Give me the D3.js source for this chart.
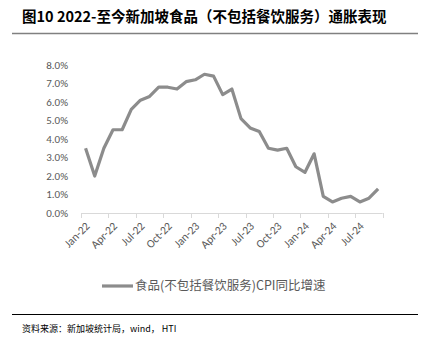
<!DOCTYPE html>
<html><head><meta charset="utf-8">
<script src="https://cdn.jsdelivr.net/npm/d3@7"></script>
<style>body{margin:0;background:#fff}svg{display:block}</style>
</head><body><svg id="c" width="425" height="341"></svg>
<script>
const months = ["Jan","Feb","Mar","Apr","May","Jun","Jul","Aug","Sep","Oct","Nov","Dec"];
const categories = [];
[22,23,24].forEach(y=>months.forEach(m=>categories.push(m+"-"+y)));
categories.length = 33;
const values = [3.5,2.0,3.5,4.5,4.5,5.6,6.1,6.3,6.8,6.8,6.7,7.1,
                7.2,7.5,7.4,6.4,6.7,5.1,4.6,4.4,3.5,3.4,3.5,2.5,
                2.2,3.2,0.9,0.6,0.8,0.9,0.6,0.8,1.3];
const yTicks = [0,1,2,3,4,5,6,7,8];
const tickLabels = ["Jan-22","Apr-22","Jul-22","Oct-22","Jan-23","Apr-23","Jul-23","Oct-23","Jan-24","Apr-24","Jul-24"];
const title = "图10 2022-至今新加坡食品（不包括餐饮服务）通胀表现";
const seriesName = "食品(不包括餐饮服务)CPI同比增速";
const source = "资料来源：新加坡统计局，wind， HTI";

const svg = d3.select("#c");
const font = "'Noto Sans CJK SC','Noto Sans',sans-serif";
const gray = "#595959";

svg.append("text").attr("x",22).attr("y",22).attr("font-family",font)
  .attr("font-size",14.5).attr("font-weight","bold").attr("fill","#000").text(title);
svg.append("line").attr("x1",12).attr("x2",418).attr("y1",33.5).attr("y2",33.5)
  .attr("stroke","#808080").attr("stroke-width",1.5);

const x = d3.scaleBand().domain(categories).range([81,382.7]);
const y = d3.scaleLinear().domain([0,8]).range([213,65]);

// y labels
svg.append("g").selectAll("text").data(yTicks).join("text")
  .attr("x",68).attr("y",d=>y(d)).attr("dy","0.35em").attr("text-anchor","end")
  .attr("font-family","Calibri,'Liberation Sans',sans-serif").attr("font-size",11)
  .attr("fill",gray).text(d=>d.toFixed(1)+"%");

// x axis
const xa = svg.append("g");
xa.append("line").attr("x1",x.range()[0]).attr("x2",x.range()[1]).attr("y1",213.5).attr("y2",213.5)
  .attr("stroke","#d9d9d9").attr("stroke-width",1);
const tickIdx = d3.range(0,34,3);
xa.selectAll(".tk").data(tickIdx).join("line")
  .attr("x1",i=>Math.round(x.range()[0]+i*x.step())+0.5)
  .attr("x2",i=>Math.round(x.range()[0]+i*x.step())+0.5)
  .attr("y1",213).attr("y2",218).attr("stroke","#d9d9d9");
xa.selectAll(".lb").data(tickLabels).join("text")
  .attr("transform",d=>`translate(${x(d)+x.bandwidth()/2+2},${224}) rotate(-45)`)
  .attr("text-anchor","end").attr("dy","0.35em")
  .attr("font-family","Calibri,'Liberation Sans',sans-serif").attr("font-size",11.5)
  .attr("fill",gray).text(d=>d);

// line
const line = d3.line().x((d,i)=>x(categories[i])+x.bandwidth()/2).y(d=>y(d));
svg.append("path").datum(values).attr("d",line).attr("fill","none")
  .attr("stroke","#8c8c8c").attr("stroke-width",3.2).attr("stroke-linejoin","round");

// legend
svg.append("line").attr("x1",102).attr("x2",133).attr("y1",286).attr("y2",286)
  .attr("stroke","#8c8c8c").attr("stroke-width",3.2);
svg.append("text").attr("x",135).attr("y",286).attr("dy","0.35em")
  .attr("font-family",font).attr("font-size",12.5).attr("fill",gray).text(seriesName);

svg.append("line").attr("x1",12).attr("x2",418).attr("y1",314.5).attr("y2",314.5)
  .attr("stroke","#000").attr("stroke-width",1);
svg.append("text").attr("x",22).attr("y",329).attr("dy","0.35em")
  .attr("font-family",font).attr("font-size",9).attr("fill","#000").text(source);
</script></body></html>
